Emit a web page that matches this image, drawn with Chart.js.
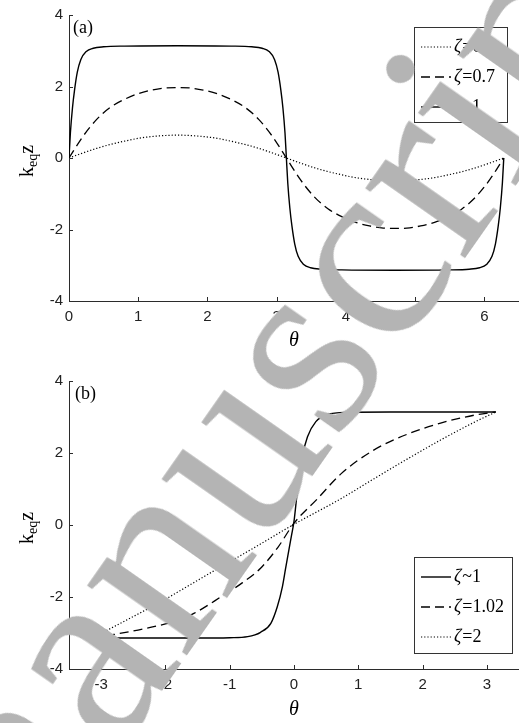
<!DOCTYPE html>
<html>
<head>
<meta charset="utf-8">
<script src="https://cdn.jsdelivr.net/npm/chart.js@4.4.0/dist/chart.umd.min.js"></script>
<style>
  html, body { margin: 0; padding: 0; background: #fff; }
  #wrap { position: relative; width: 519px; height: 723px; overflow: hidden; }
  #cA { position: absolute; left: 0; top: 0; }
  #cB { position: absolute; left: 0; top: 360px; }
  #mark {
    position: absolute; left: 262px; top: 392px;
    transform: translate(-50%, -50%) rotate(-55deg);
    font: 265px "Liberation Serif", serif; line-height: 1;
    color: #b4b4b4; white-space: nowrap; pointer-events: none;
  }
</style>
</head>
<body>
<div id="wrap">
  <canvas id="cA" width="519" height="360"></canvas>
  <canvas id="cB" width="519" height="363"></canvas>
  <div id="mark">manuscript</div>
</div>
<script>
// ---- panel (a): zeta < 1, theta from 0 to 2pi ----
const thetaA = [0, 0.2, 0.4, 0.6, 0.8, 1.0, 1.2, 1.4, 1.57, 1.74, 1.94, 2.14, 2.34, 2.54, 2.74, 2.94, 3.14,
  3.34, 3.54, 3.74, 3.94, 4.14, 4.34, 4.54, 4.71, 4.88, 5.08, 5.28, 5.48, 5.68, 5.88, 6.08, 6.28];
const zeta01 = [0, 0.14, 0.27, 0.38, 0.47, 0.55, 0.60, 0.63, 0.64, 0.63, 0.60, 0.55, 0.47, 0.38, 0.27, 0.14, 0,
  -0.14, -0.27, -0.38, -0.47, -0.55, -0.60, -0.63, -0.64, -0.63, -0.60, -0.55, -0.47, -0.38, -0.27, -0.14, 0];
const zeta07 = [0, 0.60, 1.08, 1.42, 1.64, 1.80, 1.90, 1.96, 1.97, 1.96, 1.90, 1.80, 1.64, 1.42, 1.08, 0.60, 0,
  -0.60, -1.08, -1.42, -1.64, -1.80, -1.90, -1.96, -1.97, -1.96, -1.90, -1.80, -1.64, -1.42, -1.08, -0.60, 0];
const thetaA1 = [0, 0.02, 0.05, 0.08, 0.12, 0.17, 0.25, 0.35, 0.5, 0.8, 1.57, 2.34, 2.64, 2.79, 2.89, 2.97,
  3.02, 3.06, 3.09, 3.12, 3.14, 3.16, 3.19, 3.22, 3.26, 3.31, 3.39, 3.49, 3.64, 3.94, 4.71, 5.48, 5.78,
  5.93, 6.03, 6.11, 6.16, 6.2, 6.23, 6.26, 6.28];
const zeta1A = [0, 0.7, 1.4, 1.9, 2.4, 2.75, 2.98, 3.07, 3.11, 3.13, 3.14, 3.13, 3.11, 3.07, 2.98, 2.75,
  2.4, 1.9, 1.4, 0.7, 0, -0.7, -1.4, -1.9, -2.4, -2.75, -2.98, -3.07, -3.11, -3.13, -3.14, -3.13, -3.11,
  -3.07, -2.98, -2.75, -2.4, -1.9, -1.4, -0.7, 0];
const labelsA = ['ζ=0.1', 'ζ=0.7', 'ζ~1'];
const xTicksA = [0, 1, 2, 3, 4, 5, 6];

// ---- panel (b): zeta >= 1, theta from -pi to pi ----
const thetaB1 = [-3.14, -1.5, -1.0, -0.72, -0.52, -0.36, -0.26, -0.18, -0.13, -0.08, -0.04, 0,
  0.05, 0.13, 0.21, 0.34, 0.52, 0.83, 1.5, 3.14];
const zeta1B = [-3.14, -3.14, -3.13, -3.10, -2.98, -2.73, -2.27, -1.71, -1.2, -0.7, -0.3, 0.1,
  0.9, 1.9, 2.45, 2.87, 3.07, 3.13, 3.14, 3.14];
const thetaB2 = [-3.14, -2.8, -2.33, -1.81, -1.55, -1.14, -0.8, -0.52, -0.25, 0, 0.36, 0.73, 1.24, 1.76, 2.28, 2.8, 3.14];
const zeta102 = [-3.14, -3.04, -2.88, -2.65, -2.45, -2.0, -1.6, -1.2, -0.62, 0.05, 0.72, 1.42, 2.08, 2.52, 2.83, 3.05, 3.14];
const thetaB3 = [-3.14, -2.85, -2.07, -1.3, -0.6, 0, 0.73, 1.24, 1.76, 2.28, 2.8, 3.14];
const zeta2 = [-3.14, -2.87, -2.13, -1.33, -0.61, 0.02, 0.73, 1.28, 1.83, 2.36, 2.85, 3.14];
const labelsB = ['ζ~1', 'ζ=1.02', 'ζ=2'];
const xTicksB = [-3, -2, -1, 0, 1, 2, 3];

const yTicks = [-4, -2, 0, 2, 4];

const axisColor = '#2b2b2b';
const serif = '"Liberation Serif", "Times New Roman", serif';
const sans = '"Liberation Sans", Arial, sans-serif';

const lineStyles = {
  dotted: { borderDash: [1.2, 2], borderWidth: 1.2 },
  dashed: { borderDash: [9, 5], borderWidth: 1.3 },
  solid: { borderDash: [], borderWidth: 1.4 }
};

const pts = (xs, ys) => xs.map((x, i) => ({ x: x, y: ys[i] }));

const mkSet = (label, xs, ys, style) => Object.assign({
  label: label,
  data: pts(xs, ys),
  borderColor: '#000',
  pointRadius: 0,
  fill: false,
  cubicInterpolationMode: 'monotone'
}, lineStyles[style]);

// inward ticks, titles, legend box and panel tag
const decor = {
  id: 'decor',
  afterDraw(chart, args, o) {
    const ctx = chart.ctx;
    const a = chart.chartArea;
    const sx = chart.scales.x, sy = chart.scales.y;
    ctx.save();
    ctx.strokeStyle = axisColor;
    ctx.lineWidth = 1;
    ctx.beginPath();
    sx.ticks.forEach(t => {
      const px = Math.round(sx.getPixelForValue(t.value)) + 0.5;
      ctx.moveTo(px, a.bottom); ctx.lineTo(px, a.bottom - 4);
    });
    sy.ticks.forEach(t => {
      const py = Math.round(sy.getPixelForValue(t.value)) + 0.5;
      ctx.moveTo(a.left, py); ctx.lineTo(a.left + 4, py);
    });
    ctx.stroke();

    // x title
    ctx.fillStyle = '#000';
    ctx.font = 'italic 20px ' + serif;
    ctx.textAlign = 'center';
    ctx.textBaseline = 'middle';
    ctx.fillText('θ', (a.left + a.right) / 2, o.thetaY);

    // y title k_eq z
    ctx.save();
    ctx.translate(33, (a.top + a.bottom) / 2 + 3);
    ctx.rotate(-Math.PI / 2);
    ctx.textAlign = 'left';
    ctx.textBaseline = 'alphabetic';
    ctx.font = '20px ' + serif;
    const wk = ctx.measureText('k').width, wz = ctx.measureText('z').width;
    ctx.font = '14px ' + serif;
    const we = ctx.measureText('eq').width;
    const x0 = -(wk + we + wz) / 2;
    ctx.font = '20px ' + serif; ctx.fillText('k', x0, 0);
    ctx.font = '14px ' + serif; ctx.fillText('eq', x0 + wk, 4);
    ctx.font = '20px ' + serif; ctx.fillText('z', x0 + wk + we, 0);
    ctx.restore();

    // panel tag
    ctx.font = '18px ' + serif;
    ctx.textAlign = 'left';
    ctx.textBaseline = 'middle';
    ctx.fillText(o.tag, a.left + o.tagDx, a.top + o.tagDy);

    // legend
    const b = o.box;
    ctx.strokeStyle = '#333';
    ctx.lineWidth = 1;
    ctx.strokeRect(b[0] + 0.5, b[1] + 0.5, b[2] - b[0], b[3] - b[1]);
    chart.data.datasets.forEach((ds, i) => {
      const y = b[1] + o.rowTop + i * 30;
      ctx.save();
      ctx.strokeStyle = '#000';
      ctx.lineWidth = ds.borderWidth;
      ctx.setLineDash(ds.borderDash);
      ctx.beginPath();
      ctx.moveTo(b[0] + 7, y); ctx.lineTo(b[0] + 37, y);
      ctx.stroke();
      ctx.restore();
      const tx = b[0] + 40;
      ctx.font = 'italic 18px ' + serif;
      ctx.fillText(ds.label[0], tx, y);
      const wz = ctx.measureText(ds.label[0]).width;
      ctx.font = '18px ' + serif;
      ctx.fillText(ds.label.slice(1), tx + wz + 1, y);
    });
    ctx.restore();
  }
};

function makePanel(id, datasets, xMin, xMax, xTicks, area, extra) {
  const H = document.getElementById(id).height;
  return new Chart(document.getElementById(id), {
    type: 'line',
    data: { datasets: datasets },
    plugins: [decor],
    options: {
      responsive: false,
      animation: false,
      layout: { padding: { top: area.top, right: 0, left: 0, bottom: 0 } },
      plugins: { legend: { display: false }, tooltip: { enabled: false }, decor: extra },
      scales: {
        x: {
          type: 'linear', min: xMin, max: xMax,
          grid: { display: false, drawTicks: false },
          border: { display: true, color: axisColor, width: 1 },
          ticks: { color: '#222', font: { family: sans, size: 15 }, padding: 7 },
          afterBuildTicks: s => { s.ticks = xTicks.map(v => ({ value: v })); },
          afterFit: s => { s.height = H - area.bottom; }
        },
        y: {
          type: 'linear', min: -4, max: 4,
          grid: { display: false, drawTicks: false },
          border: { display: true, color: axisColor, width: 1 },
          ticks: { color: '#222', font: { family: sans, size: 15 }, padding: 6 },
          afterBuildTicks: s => { s.ticks = yTicks.map(v => ({ value: v })); },
          afterFit: s => { s.width = 69; }
        }
      }
    }
  });
}

makePanel('cA', [
  mkSet(labelsA[0], thetaA, zeta01, 'dotted'),
  mkSet(labelsA[1], thetaA, zeta07, 'dashed'),
  mkSet(labelsA[2], thetaA1, zeta1A, 'solid')
], 0, 6.5, xTicksA, { top: 12, bottom: 301 },
  { tag: '(a)', tagDx: 4, tagDy: 13, thetaY: 341, box: [414, 27, 507, 122], rowTop: 20 });

makePanel('cB', [
  mkSet(labelsB[0], thetaB1, zeta1B, 'solid'),
  mkSet(labelsB[1], thetaB2, zeta102, 'dashed'),
  mkSet(labelsB[2], thetaB3, zeta2, 'dotted')
], -3.5, 3.5, xTicksB, { top: 21, bottom: 309 },
  { tag: '(b)', tagDx: 6, tagDy: 13, thetaY: 350, box: [414, 197, 512, 293], rowTop: 20 });
</script>
</body>
</html>
